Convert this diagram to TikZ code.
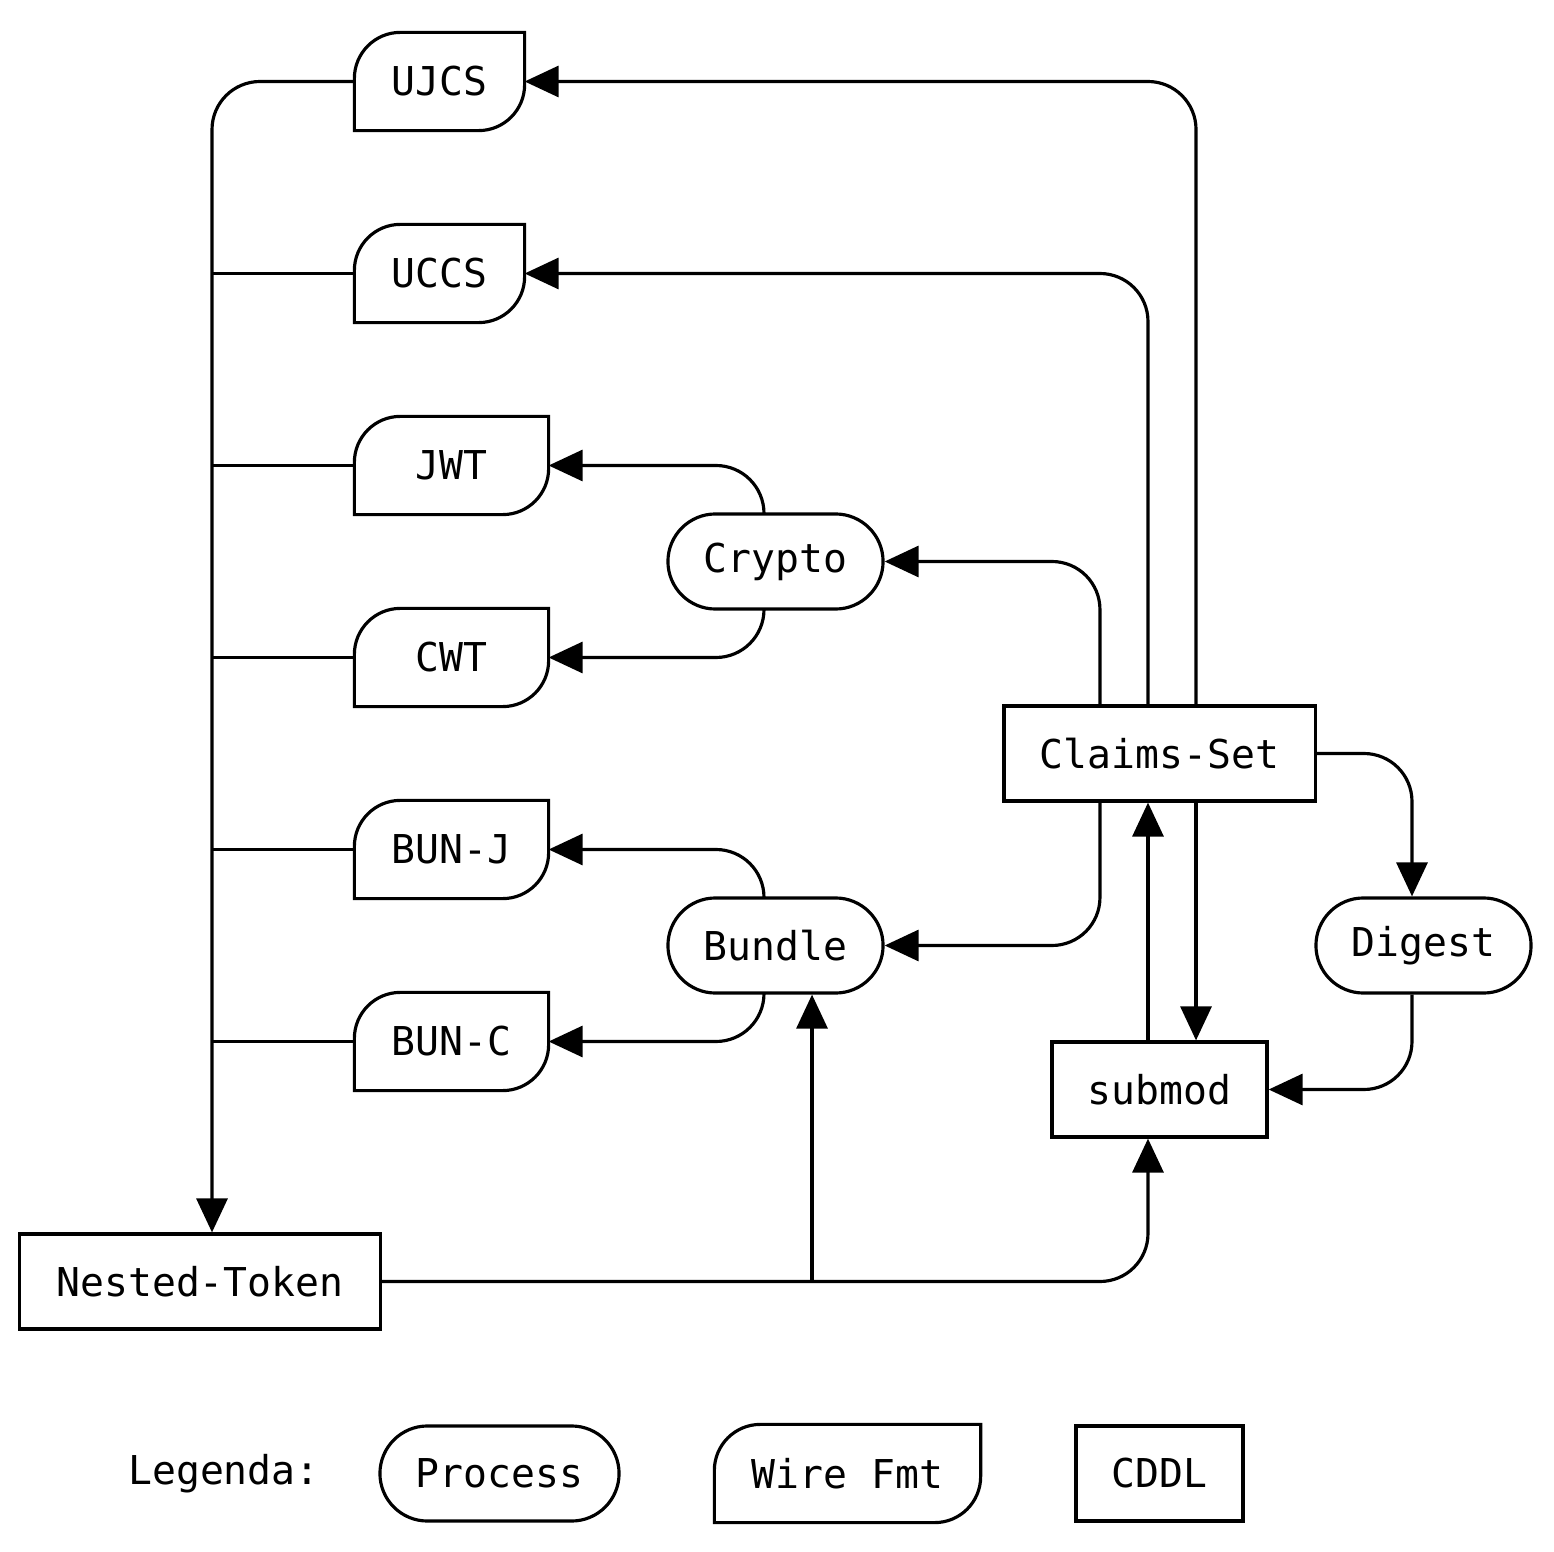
\documentclass[tikz,border=0pt]{standalone}
\usepackage{fontspec}
\setmainfont{DejaVu Sans Mono}
\usepackage{tikz}
\usetikzlibrary{arrows.meta}
\usetikzlibrary{positioning}
\newcommand{\wfrad}{0.46cm}
% outline of a wire format node: round top left and bottom right
\newcommand{\wireoutline}[1]{\draw (#1.south west) -- ([yshift=-\wfrad]#1.north west)
  arc[start angle=180,end angle=90,radius=\wfrad] -- (#1.north east)
  -- ([yshift=\wfrad]#1.south east) arc[start angle=0,end angle=-90,radius=\wfrad] -- cycle;}

\begin{document}
\begin{tikzpicture}[
x=0.01cm,y=-0.01cm,
line width=0.9pt,
every node/.style={font=\fontsize{11.3pt}{13pt}\selectfont,inner sep=0pt},
Process/.style={draw,rounded corners=0.475cm,minimum height=0.95cm,minimum width=2.15cm},
WireFmt/.style={minimum height=0.95cm,minimum width=1.91cm},
Cddl/.style={draw,minimum height=0.95cm},
Flow/.style={-{Triangle[length=0.34cm,width=0.31cm]},rounded corners=0.48cm}
]
\useasboundingbox (0,0) rectangle (1554,1552);

% wire formats
\node[WireFmt,minimum width=1.67cm] (ujcs) at (439.5,81.5) {UJCS};
\node[WireFmt,minimum width=1.67cm] (uccs) at (439.5,273.5) {UCCS};
\node[WireFmt] (jwt) at (451.5,465.5) {JWT};
\node[WireFmt] (cwt) at (451.5,657.5) {CWT};
\node[WireFmt] (bunj) at (451.5,849.5) {BUN-J};
\node[WireFmt] (bunc) at (451.5,1041.5) {BUN-C};
\foreach \w in {ujcs,uccs,jwt,cwt,bunj,bunc} {\wireoutline{\w}}

% processes
\node[Process] (crypto) at (775.5,561.5) {Crypto};
\node[Process] (bundle) at (775.5,945.5) {Bundle};
\node[Process] (digest) at (1423.5,945.5) {Digest};

% cddl
\node[Cddl,minimum width=3.11cm] (claims) at (1159.5,753.5) {Claims-Set};
\node[Cddl,minimum width=2.15cm] (submod) at (1159.5,1089.5) {submod};
\node[Cddl,minimum width=3.60cm] (nested) at (200,1281.5) {Nested-Token};

% left bus into Nested-Token
\coordinate (bus) at ([xshift=0.12cm]nested.north);
\draw[Flow] (ujcs.west) -| (bus);
\foreach \w in {uccs,jwt,cwt,bunj,bunc} {\draw (\w.west) -- (\w.west -| bus);}

% out of Claims-Set
\draw[Flow] ([xshift=0.365cm]claims.north) |- (ujcs.east);
\draw[Flow] ([xshift=-0.115cm]claims.north) |- (uccs.east);
\draw[Flow] ([xshift=-0.595cm]claims.north) |- (crypto.east);
\draw[Flow] ([xshift=-0.595cm]claims.south) |- (bundle.east);
\draw[Flow] ([xshift=0.365cm]claims.south) -- ([xshift=0.365cm]submod.north);
\draw[Flow] ([xshift=-0.115cm]submod.north) -- ([xshift=-0.115cm]claims.south);
\draw[Flow] (claims.east) -| ([xshift=-0.115cm]digest.north);
\draw[Flow] ([xshift=-0.115cm]digest.south) |- (submod.east);

% processes to wire formats
\draw[Flow] ([xshift=-0.115cm]crypto.north) |- (jwt.east);
\draw[Flow] ([xshift=-0.115cm]crypto.south) |- (cwt.east);
\draw[Flow] ([xshift=-0.115cm]bundle.north) |- (bunj.east);
\draw[Flow] ([xshift=-0.115cm]bundle.south) |- (bunc.east);

% Nested-Token back in
\draw[Flow] (nested.east) -| ([xshift=-0.115cm]submod.south);
\coordinate (nb) at ([xshift=0.365cm]bundle.south);
\draw[Flow] (nb |- nested.east) -- (nb);

% legend
\node (legend) at (224,1473.5) {Legenda:};
\node[Process,minimum width=2.39cm] (lproc) at (499.5,1473.5) {Process};
\node[WireFmt,minimum width=2.63cm] (lwire) at (847.5,1473.5) {Wire Fmt};
\wireoutline{lwire}
\node[Cddl,minimum width=1.67cm] (lcddl) at (1159.5,1473.5) {CDDL};

\end{tikzpicture}
\end{document}
